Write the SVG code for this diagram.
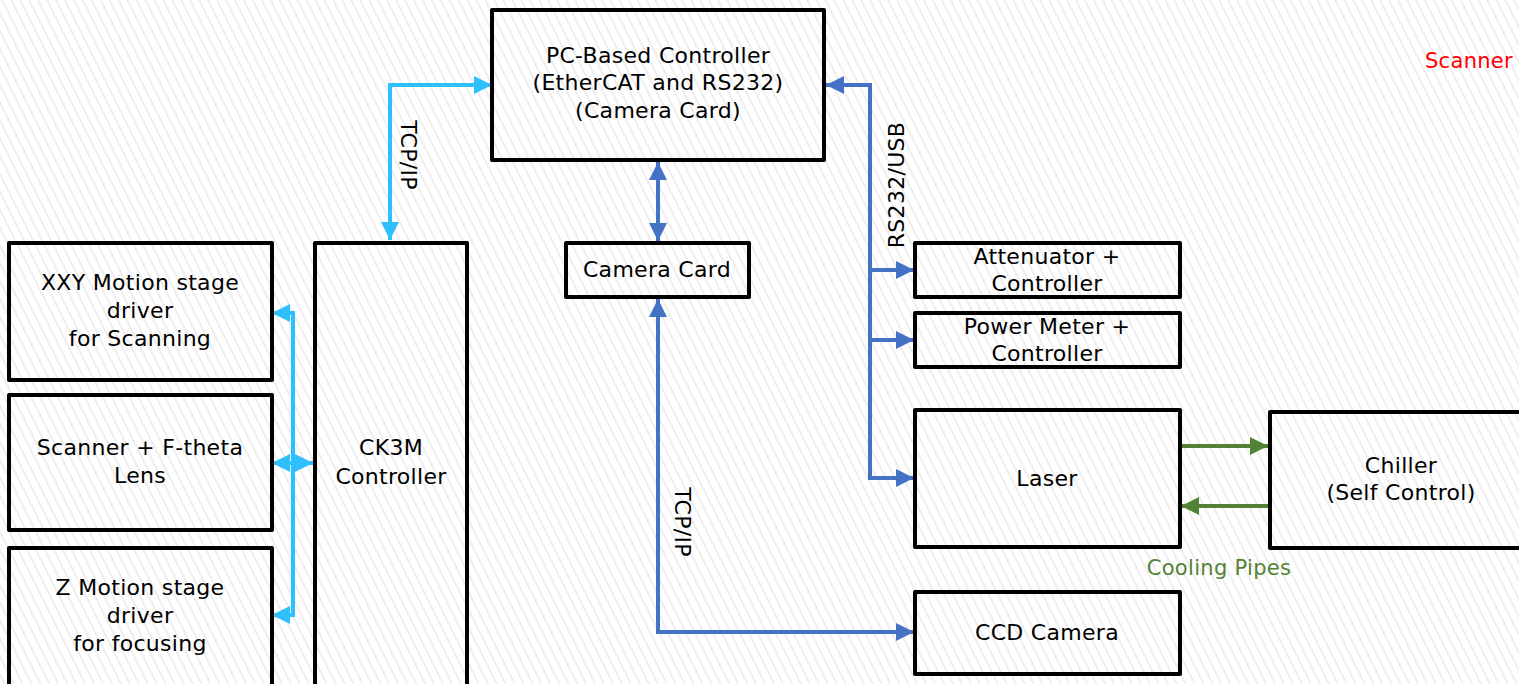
<svg xmlns="http://www.w3.org/2000/svg" width="1519" height="684" viewBox="0 0 1519 684">
<defs>
<pattern id="hatch" patternUnits="userSpaceOnUse" width="8" height="8" patternTransform="rotate(-26.6)">
<rect width="8" height="8" fill="#ffffff"/>
<line x1="2" y1="0" x2="2" y2="8" stroke="#eeeeee" stroke-width="2"/>
</pattern>
<marker id="ac" viewBox="0 0 10 10" refX="10" refY="5" markerWidth="4.5" markerHeight="4.5" orient="auto-start-reverse" markerUnits="strokeWidth"><path d="M0,0 L10,5 L0,10 Z" fill="#2EBFFF"/></marker>
<marker id="ab" viewBox="0 0 10 10" refX="10" refY="5" markerWidth="4.5" markerHeight="4.5" orient="auto-start-reverse" markerUnits="strokeWidth"><path d="M0,0 L10,5 L0,10 Z" fill="#4472C4"/></marker>
<marker id="ag" viewBox="0 0 10 10" refX="10" refY="5" markerWidth="4.5" markerHeight="4.5" orient="auto-start-reverse" markerUnits="strokeWidth"><path d="M0,0 L10,5 L0,10 Z" fill="#548235"/></marker>
</defs>
<style>
.box{fill:none;stroke:#000;stroke-width:4;stroke-linejoin:round}
.t{font-family:"DejaVu Sans","Liberation Sans",sans-serif;font-size:22px;letter-spacing:0.3px;fill:#000;text-anchor:middle}
.cy{fill:none;stroke:#2EBFFF;stroke-width:4}
.bl{fill:none;stroke:#4472C4;stroke-width:4}
.gr{fill:none;stroke:#548235;stroke-width:4}
</style>
<rect width="1519" height="684" fill="url(#hatch)"/>

<g id="connectors">
<path class="cy" d="M492,85 H390 V240" marker-start="url(#ac)" marker-end="url(#ac)"/>
<path class="cy" d="M272,313 H293 V615 H272" marker-start="url(#ac)" marker-end="url(#ac)"/>
<path class="cy" d="M272,463 H313" marker-start="url(#ac)" marker-end="url(#ac)"/>
<path class="bl" d="M658,162 V241" marker-start="url(#ab)" marker-end="url(#ab)"/>
<path class="bl" d="M658,299 V632 H914" marker-start="url(#ab)" marker-end="url(#ab)"/>
<path class="bl" d="M826,85 H870 V478 H914" marker-start="url(#ab)" marker-end="url(#ab)"/>
<path class="bl" d="M870,270 H914" marker-end="url(#ab)"/>
<path class="bl" d="M870,340 H914" marker-end="url(#ab)"/>
<path class="gr" d="M1180,446 H1268" marker-end="url(#ag)"/>
<path class="gr" d="M1270,506 H1181" marker-end="url(#ag)"/>
<text class="t" transform="translate(409,155) rotate(90)" dy="8">TCP/IP</text>
<text class="t" transform="translate(683,522) rotate(90)" dy="8">TCP/IP</text>
<text class="t" transform="translate(896,185) rotate(-90)" dy="8">RS232/USB</text>
<text class="t" x="1219" y="575" style="fill:#548235;font-size:21px">Cooling Pipes</text>
</g>

<g id="pc">
<rect class="box" x="492" y="10" width="332" height="150"/>
<text class="t" x="658" y="63">PC-Based Controller</text>
<text class="t" x="658" y="90">(EtherCAT and RS232)</text>
<text class="t" x="658" y="118">(Camera Card)</text>
</g>
<g id="cameracard">
<rect class="box" x="566" y="243" width="183" height="54"/>
<text class="t" x="657" y="277">Camera Card</text>
</g>
<g id="ck3m">
<rect class="box" x="315" y="243" width="152" height="445"/>
<text class="t" x="391" y="455">CK3M</text>
<text class="t" x="391" y="484">Controller</text>
</g>
<g id="xxy">
<rect class="box" x="9" y="243" width="263" height="137"/>
<text class="t" x="140" y="290">XXY Motion stage</text>
<text class="t" x="140" y="318">driver</text>
<text class="t" x="140" y="346">for Scanning</text>
</g>
<g id="scanner">
<rect class="box" x="9" y="395" width="263" height="135"/>
<text class="t" x="140" y="455">Scanner + F-theta</text>
<text class="t" x="140" y="483">Lens</text>
</g>
<g id="zstage">
<rect class="box" x="9" y="548" width="263" height="140"/>
<text class="t" x="140" y="595">Z Motion stage</text>
<text class="t" x="140" y="623">driver</text>
<text class="t" x="140" y="651">for focusing</text>
</g>
<g id="attenuator">
<rect class="box" x="915" y="243" width="265" height="54"/>
<text class="t" x="1047" y="264">Attenuator +</text>
<text class="t" x="1047" y="291">Controller</text>
</g>
<g id="powermeter">
<rect class="box" x="915" y="313" width="265" height="54"/>
<text class="t" x="1047" y="334">Power Meter +</text>
<text class="t" x="1047" y="361">Controller</text>
</g>
<g id="laser">
<rect class="box" x="915" y="410" width="265" height="137"/>
<text class="t" x="1047" y="486">Laser</text>
</g>
<g id="chiller">
<rect class="box" x="1270" y="412" width="260" height="136"/>
<text class="t" x="1401" y="473">Chiller</text>
<text class="t" x="1401" y="500">(Self Control)</text>
</g>
<g id="ccd">
<rect class="box" x="915" y="592" width="265" height="82"/>
<text class="t" x="1047" y="640">CCD Camera</text>
</g>
<g id="scannerlabel">
<text class="t" x="1469" y="68" style="fill:#FF0000;font-size:21px">Scanner</text>
</g>
</svg>
